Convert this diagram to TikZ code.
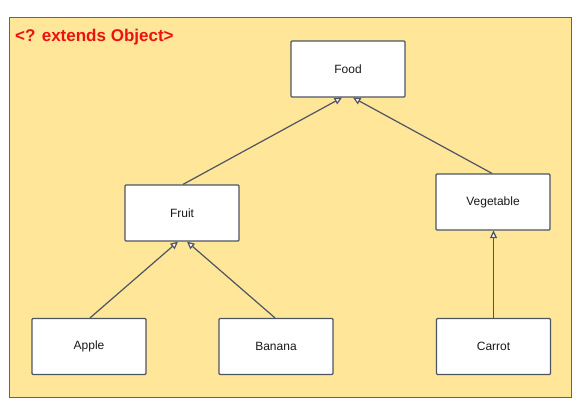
\documentclass[tikz,border=0pt]{standalone}
\usepackage{fontspec}
\setmainfont{Liberation Sans}
\usetikzlibrary{arrows.meta}
\definecolor{bgyellow}{HTML}{FFE699}
\definecolor{frameblue}{HTML}{4A6A8A}
\definecolor{titlered}{HTML}{EE1111}
\definecolor{linegray}{HTML}{4D5563}
\tikzset{
  classbox/.style={draw=linegray, fill=white, line width=1.2pt, rounded corners=1pt,
    minimum width=114pt, minimum height=56pt, inner sep=0pt,
    font=\fontsize{12}{14}\selectfont, text=black!90},
  inherit/.style={draw=linegray, line width=1.2pt,
    -{Triangle[open, length=7.5pt, width=7pt, fill=white]}}
}
\begin{document}
\begin{tikzpicture}[x=1pt,y=-1pt]
\useasboundingbox (0,0) rectangle (588,408);
\fill[white] (0,0) rectangle (588,408);
\draw[fill=bgyellow, draw=frameblue, line width=1pt] (9,17) rectangle (571,397);
\node[anchor=west, text=titlered, font=\bfseries\fontsize{17}{19}\selectfont, inner sep=0pt] (title) at (15,37) {<? extends Object>};
\node[classbox] (food) at (348,69) {Food};
\node[classbox] (fruit) at (182,213) {Fruit};
\node[classbox] (veg) at (493,202) {Vegetable};
\node[classbox] (apple) at (89,346.5) {Apple};
\node[classbox] (banana) at (276,346.5) {Banana};
\node[classbox] (carrot) at (493.5,346.5) {Carrot};
\draw[inherit] ([xshift=1pt]fruit.north) -- ([xshift=-6pt]food.south);
\draw[inherit] ([xshift=-1pt]veg.north) -- ([xshift=5pt]food.south);
\draw[inherit] ([xshift=1pt]apple.north) -- ([xshift=-4pt]fruit.south);
\draw[inherit] ([xshift=-1pt]banana.north) -- ([xshift=5pt]fruit.south);
\draw[inherit] (carrot.north) -- (carrot.north |- veg.south);
\end{tikzpicture}
\end{document}
